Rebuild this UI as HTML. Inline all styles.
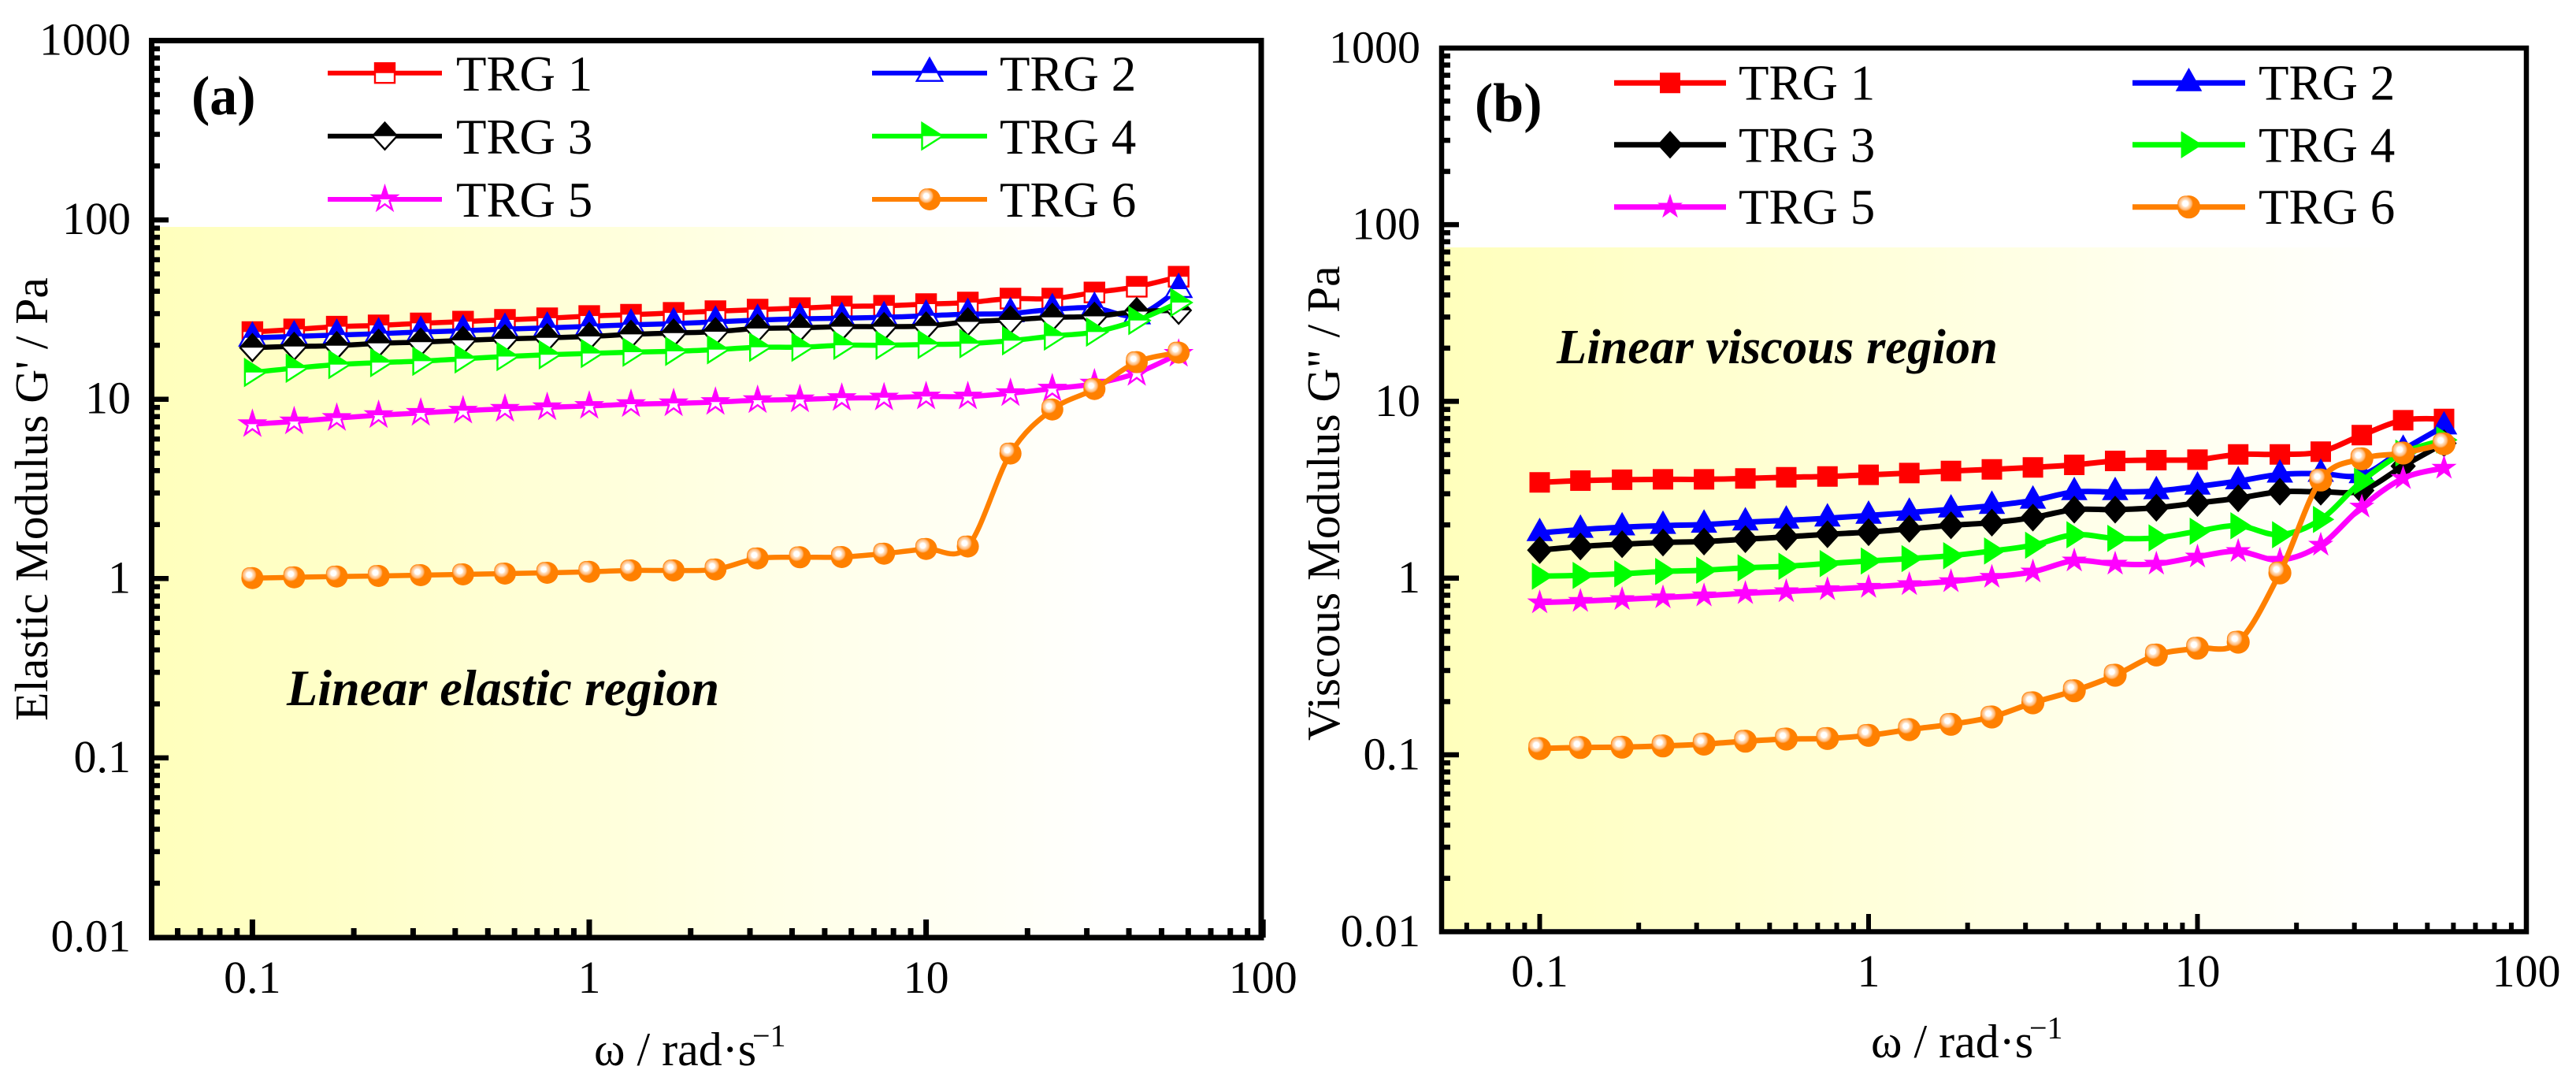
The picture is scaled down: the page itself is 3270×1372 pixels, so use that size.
<!DOCTYPE html>
<html lang="en">
<head>
<meta charset="utf-8">
<title>Elastic and viscous modulus vs angular frequency</title>
<style>
html,body{margin:0;padding:0;background:#fff;width:3270px;height:1372px;overflow:hidden}
svg{display:block}
text{font-family:"Liberation Serif",serif;fill:#000}
.tick{font-size:58px}
.leg{font-size:63px}
.title{font-size:59.5px}
.xt{font-size:60px}
.sup{font-size:40px}
.tag{font-size:70px;font-weight:bold}
.region{font-size:62.6px;font-weight:bold;font-style:italic}
.region-wide{font-size:64.2px;font-weight:bold;font-style:italic}
</style>
</head>
<body>
<svg id="chart" xmlns="http://www.w3.org/2000/svg" width="3270" height="1372" viewBox="0 0 3270 1372">
  <defs>
    <linearGradient id="yellow-fade" x1="0" y1="0" x2="1" y2="0">
      <stop offset="0" stop-color="#ffffbc"/>
      <stop offset="0.88" stop-color="#ffffff"/>
    </linearGradient>
    <radialGradient id="shine">
      <stop offset="0" stop-color="#ffffff"/>
      <stop offset="0.35" stop-color="#ffffff"/>
      <stop offset="0.5" stop-color="#ffe0c0"/>
      <stop offset="0.8" stop-color="#ffb878"/>
      <stop offset="1" stop-color="#ff8000"/>
    </radialGradient>
    <clipPath id="top-half"><rect x="-40" y="-40" width="80" height="40"/></clipPath>
  </defs>

  <rect x="196" y="288" width="1402" height="899" fill="url(#yellow-fade)"/>
  <rect x="1833" y="314" width="1371" height="865" fill="url(#yellow-fade)"/>

  <g id="layer-a"></g>
  <g id="layer-b"></g>

  <rect x="192.5" y="51.5" width="1408.5" height="1138.5" fill="none" stroke="#000" stroke-width="7"/>
  <rect x="1830" y="61" width="1377" height="1121.5" fill="none" stroke="#000" stroke-width="6.5"/>

  <text class="tag" x="243" y="145">(a)</text>
  <text class="tag" x="1872" y="154">(b)</text>
  <text class="region-wide" x="364" y="895">Linear elastic region</text>
  <text class="region" x="1976" y="461">Linear viscous region</text>

  <text class="title" transform="translate(60,915) rotate(-90)">Elastic Modulus G' / Pa</text>
  <text class="title" transform="translate(1700,940) rotate(-90)">Viscous Modulus G" / Pa</text>

  <g>
    <text class="xt" x="754" y="1352">ω / rad·s</text>
    <text class="sup" x="955" y="1328">−1</text>
  </g>
  <g>
    <text class="xt" x="2375" y="1342">ω / rad·s</text>
    <text class="sup" x="2576" y="1318">−1</text>
  </g>
</svg>

<script>
// Shared angular frequency (rad/s) and axis ticks
const omega = [0.1,0.133,0.178,0.237,0.316,0.422,0.562,0.75,1,1.33,1.78,2.37,3.16,4.22,5.62,7.5,10,13.3,17.8,23.7,31.6,42.2,56.2];
const xTickLabels = ['0.1','1','10','100'];
const yTickLabels = ['0.01','0.1','1','10','100','1000'];
const seriesNames = ['TRG 1','TRG 2','TRG 3','TRG 4','TRG 5','TRG 6'];

// Panel (a): elastic modulus G' / Pa
const elasticTrg1 = [23.7,24.5,25.4,25.8,26.5,27.1,27.7,28.3,29.1,29.6,30.3,31.0,31.6,32.2,32.9,33.2,33.9,34.6,36.4,36.4,39.4,42.4,48.2];
const elasticTrg2 = [22.0,22.4,22.8,23.2,23.7,24.1,24.6,25.0,25.5,26.0,26.4,27.0,27.6,28.1,28.3,28.6,29.2,29.8,30.1,31.7,32.3,29.3,41.1];
const elasticTrg3 = [19.4,19.7,19.9,20.5,20.8,21.3,21.7,22.0,22.4,23.0,23.4,23.8,24.8,25.0,25.4,25.4,25.6,27.0,27.7,28.6,29.0,30.8,31.3];
const elasticTrg4 = [14.1,14.9,15.6,16.0,16.3,16.8,17.3,17.7,18.0,18.3,18.5,18.9,19.5,19.5,20.0,20.0,20.2,20.4,21.2,22.5,23.7,27.5,34.6];
const elasticTrg5 = [7.26,7.51,7.85,8.14,8.39,8.63,8.83,9.01,9.17,9.38,9.48,9.64,9.87,9.97,10.14,10.2,10.35,10.35,10.8,11.45,12.2,14.0,17.9];
const elasticTrg6 = [1.006,1.016,1.027,1.034,1.044,1.055,1.066,1.077,1.091,1.11,1.11,1.125,1.295,1.314,1.318,1.377,1.463,1.51,4.98,8.77,11.4,16.1,18.2];

// Panel (b): viscous modulus G" / Pa
const viscousTrg1 = [3.48,3.56,3.60,3.62,3.62,3.66,3.72,3.76,3.84,3.93,4.04,4.12,4.23,4.37,4.60,4.65,4.68,5.01,5.01,5.19,6.44,7.82,7.95];
const viscousTrg2 = [1.80,1.88,1.94,1.98,2.01,2.07,2.12,2.18,2.26,2.35,2.45,2.57,2.75,3.07,3.07,3.11,3.30,3.54,3.86,3.90,3.83,5.33,7.23];
const viscousTrg3 = [1.44,1.51,1.555,1.59,1.61,1.66,1.71,1.77,1.82,1.90,1.99,2.06,2.20,2.44,2.44,2.50,2.66,2.83,3.08,3.08,3.13,4.30,5.79];
const viscousTrg4 = [1.025,1.036,1.057,1.09,1.108,1.143,1.167,1.208,1.249,1.289,1.339,1.424,1.534,1.759,1.678,1.688,1.84,1.977,1.759,2.146,3.53,5.10,6.05];
const viscousTrg5 = [0.727,0.740,0.758,0.776,0.795,0.820,0.840,0.863,0.890,0.921,0.957,1.013,1.086,1.254,1.203,1.203,1.32,1.418,1.266,1.539,2.53,3.67,4.20];
const viscousTrg6 = [0.1085,0.110,0.1105,0.1123,0.115,0.1194,0.1228,0.1237,0.1288,0.1389,0.1488,0.1637,0.197,0.2304,0.282,0.367,0.401,0.434,1.07,3.59,4.73,5.10,5.75];

const elasticSeries = [elasticTrg1,elasticTrg2,elasticTrg3,elasticTrg4,elasticTrg5,elasticTrg6];
const viscousSeries = [viscousTrg1,viscousTrg2,viscousTrg3,viscousTrg4,viscousTrg5,viscousTrg6];

const colors = ['#ff0000','#0000ff','#000000','#00ff00','#ff00ff','#ff8000'];
const shapes = ['square','triangle','diamond','right','star','ball'];
const NS = 'http://www.w3.org/2000/svg';

// Axis functions
function xA(w){ return 320.4 + 427.6 * (Math.log10(w) + 1); }
function yA(v){ return 734.3 - 227.6 * Math.log10(v); }
function xB(w){ return 1954.5 + 417.5 * (Math.log10(w) + 1); }
function yB(v){ return 733.7 - 224.3 * Math.log10(v); }

function make(tag, parent){
  const el = document.createElementNS(NS, tag);
  parent.appendChild(el);
  return el;
}

function smoothPath(pts){
  let d = 'M' + pts[0][0].toFixed(1) + ' ' + pts[0][1].toFixed(1);
  for (let i = 0; i < pts.length - 1; i++){
    const p0 = pts[Math.max(i - 1, 0)], p1 = pts[i], p2 = pts[i + 1], p3 = pts[Math.min(i + 2, pts.length - 1)];
    const c1x = p1[0] + (p2[0] - p0[0]) / 6, c1y = p1[1] + (p2[1] - p0[1]) / 6;
    const c2x = p2[0] - (p3[0] - p1[0]) / 6, c2y = p2[1] - (p3[1] - p1[1]) / 6;
    d += 'C' + c1x.toFixed(1) + ' ' + c1y.toFixed(1) + ' ' + c2x.toFixed(1) + ' ' + c2y.toFixed(1) + ' ' + p2[0].toFixed(1) + ' ' + p2[1].toFixed(1);
  }
  return d;
}

function outline(shape, k){
  if (shape === 'square') return [[-12.5*k,-12.5*k],[12.5*k,-12.5*k],[12.5*k,12.5*k],[-12.5*k,12.5*k]];
  if (shape === 'triangle') return [[0,-18.7*k],[16.2*k,10*k],[-16.2*k,10*k]];
  if (shape === 'diamond') return [[0,-17*k],[15.5*k,0],[0,17*k],[-15.5*k,0]];
  if (shape === 'right') return [[-9.5*k,-16.6*k],[16.5*k,0],[-9.5*k,16.6*k]];
  const pts = [];
  const R = 16.2 * k, r = R * 0.382;
  for (let i = 0; i < 10; i++){
    const a = -Math.PI / 2 + i * Math.PI / 5;
    const rad = i % 2 ? r : R;
    pts.push([rad * Math.cos(a), rad * Math.sin(a)]);
  }
  return pts;
}

function drawMarker(parent, shape, color, x, y, halfFilled, k){
  const g = make('g', parent);
  g.setAttribute('transform', 'translate(' + x.toFixed(1) + ',' + y.toFixed(1) + ')');
  if (shape === 'ball'){
    const c = make('circle', g);
    c.setAttribute('r', (14 * k).toFixed(1));
    c.setAttribute('fill', color);
    const h = make('circle', g);
    h.setAttribute('cx', (-4.2 * k).toFixed(1));
    h.setAttribute('cy', (-4.2 * k).toFixed(1));
    h.setAttribute('r', (9.5 * k).toFixed(1));
    h.setAttribute('fill', 'url(#shine)');
    return g;
  }
  const pointList = outline(shape, k).map(p => p[0].toFixed(1) + ',' + p[1].toFixed(1)).join(' ');
  if (halfFilled){
    const base = make('polygon', g);
    base.setAttribute('points', pointList);
    base.setAttribute('fill', '#ffffff');
    base.setAttribute('stroke', color);
    base.setAttribute('stroke-width', '2.4');
    const top = make('polygon', g);
    top.setAttribute('points', pointList);
    top.setAttribute('fill', color);
    top.setAttribute('clip-path', 'url(#top-half)');
  } else {
    const solid = make('polygon', g);
    solid.setAttribute('points', pointList);
    solid.setAttribute('fill', color);
  }
  return g;
}

function drawTicks(layer, prefix, xf, yf, left, bottom, xMajorEnd, xMinorEnd, yMajorEnd, yMinorEnd, tw, xLabelY, yLabelX, yBaseShift){
  // minor + major ticks on x
  for (let e = -2; e <= 1; e++){
    for (let m = 1; m <= 9; m++){
      const w = m * Math.pow(10, e);
      if (w < 0.06 || w > 100) continue;
      const line = make('line', layer);
      
      
      line.setAttribute('x1', xf(w)); line.setAttribute('x2', xf(w));
      line.setAttribute('y1', bottom); line.setAttribute('y2', m === 1 ? xMajorEnd : xMinorEnd);
      line.setAttribute('stroke', '#000'); line.setAttribute('stroke-width', tw);
    }
  }
  const tm = make('line', layer);
  
  
  tm.setAttribute('x1', xf(100)); tm.setAttribute('x2', xf(100));
  tm.setAttribute('y1', bottom); tm.setAttribute('y2', xMajorEnd);
  tm.setAttribute('stroke', '#000'); tm.setAttribute('stroke-width', tw);

  // minor + major ticks on y
  for (let e = -2; e <= 2; e++){
    for (let m = 1; m <= 9; m++){
      const v = m * Math.pow(10, e);
      if (v === 0.01) continue;
      const line = make('line', layer);
      
      
      line.setAttribute('x1', left); line.setAttribute('x2', m === 1 ? yMajorEnd : yMinorEnd);
      line.setAttribute('y1', yf(v)); line.setAttribute('y2', yf(v));
      line.setAttribute('stroke', '#000'); line.setAttribute('stroke-width', 6.5);
    }
  }

  xTickLabels.forEach(function(label){
    const t = make('text', layer);
    
    
    t.setAttribute('class', 'tick');
    t.setAttribute('x', xf(parseFloat(label)));
    t.setAttribute('y', xLabelY);
    t.setAttribute('text-anchor', 'middle');
    t.textContent = label;
  });
  yTickLabels.forEach(function(label){
    const t = make('text', layer);
    
    
    t.setAttribute('class', 'tick');
    t.setAttribute('x', yLabelX);
    t.setAttribute('y', yf(parseFloat(label)) + yBaseShift);
    t.setAttribute('text-anchor', 'end');
    t.textContent = label;
  });
}

function drawSeries(layer, prefix, values, xf, yf, halfFilled, k, width){
  values.forEach(function(vals, s){
    const g = make('g', layer);
    
    
    const pts = vals.map((v, i) => [xf(omega[i]), yf(v)]);
    const path = make('path', g);
    
    
    path.setAttribute('d', smoothPath(pts));
    path.setAttribute('fill', 'none');
    path.setAttribute('stroke', colors[s]);
    path.setAttribute('stroke-width', width);
    pts.forEach(function(p){
      const mark = drawMarker(g, shapes[s], colors[s], p[0], p[1], halfFilled, k);
      
      
    });
  });
}

function drawLegend(layer, prefix, rowsY, textBaselines, colLineStart, colLineEnd, colText, halfFilled, k, width){
  seriesNames.forEach(function(name, s){
    const col = s % 2, row = (s - col) / 2;
    const g = make('g', layer);
    
    
    const l = make('line', g);
    l.setAttribute('x1', colLineStart[col]); l.setAttribute('x2', colLineEnd[col]);
    l.setAttribute('y1', rowsY[row]); l.setAttribute('y2', rowsY[row]);
    l.setAttribute('stroke', colors[s]); l.setAttribute('stroke-width', width);
    drawMarker(g, shapes[s], colors[s], (colLineStart[col] + colLineEnd[col]) / 2, rowsY[row], halfFilled, k);
    const t = make('text', g);
    t.setAttribute('class', 'leg');
    t.setAttribute('x', colText[col]);
    t.setAttribute('y', textBaselines[row]);
    t.textContent = name;
  });
}

const layerA = document.getElementById('layer-a');
const layerB = document.getElementById('layer-b');

drawTicks(layerA, 'panel-a', xA, yA, 192.5, 1190, 1167, 1178, 214, 203, 7, 1260, 166, 18);
drawTicks(layerB, 'panel-b', xB, yB, 1830, 1182.5, 1160, 1171, 1852, 1841, 6, 1252, 1803, 18.5);

drawSeries(layerA, 'panel-a', elasticSeries, xA, yA, true, 1, 6.5);
drawSeries(layerB, 'panel-b', viscousSeries, xB, yB, false, 1.04, 7);

drawLegend(layerA, 'panel-a', [92.7,172.7,253], [115,195,275], [416,1107], [561,1253], [579,1269], true, 1, 6);
drawLegend(layerB, 'panel-b', [105.3,183.7,262.7], [126.7,205.7,284], [2049,2707], [2191,2850], [2207,2867], false, 1.04, 7);
</script>
</body>
</html>
